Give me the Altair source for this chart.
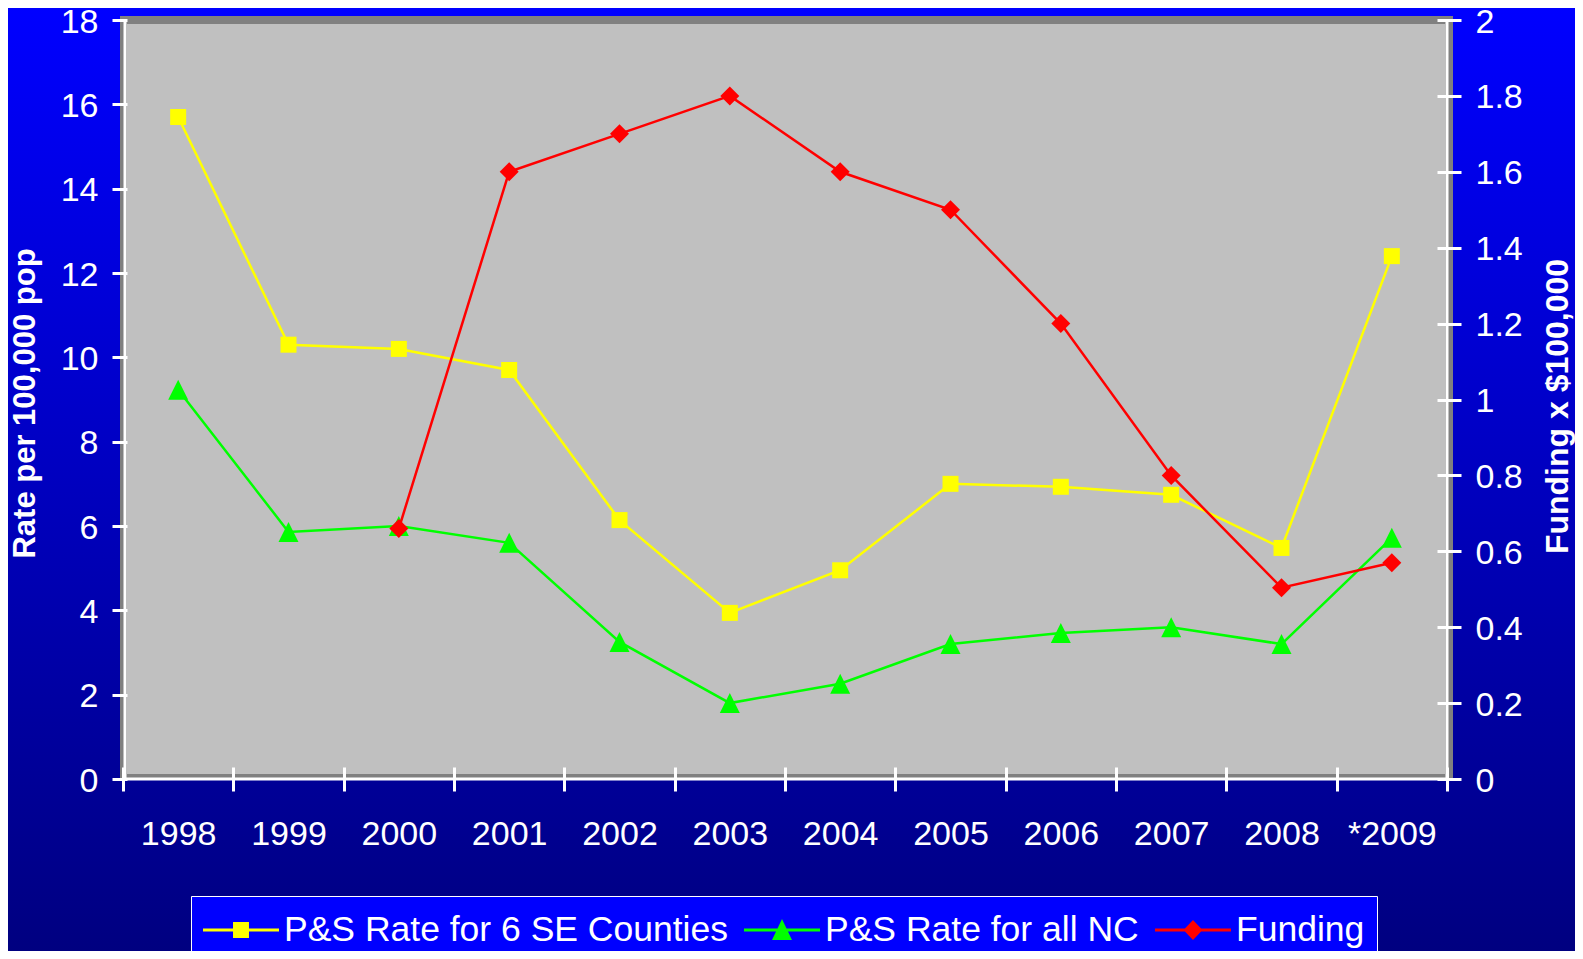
import altair as alt
import pandas as pd

# ---------------- data ----------------
years = ["1998", "1999", "2000", "2001", "2002", "2003", "2004", "2005",
         "2006", "2007", "2008", "*2009"]
se_counties = [15.7, 10.3, 10.2, 9.7, 6.14, 3.94, 4.95, 7.0, 6.93, 6.74, 5.48, 12.4]
all_nc = [9.23, 5.86, 6.0, 5.6, 3.25, 1.8, 2.26, 3.2, 3.46, 3.6, 3.2, 5.72]
funding = [None, None, 0.66, 1.6, 1.7, 1.8, 1.6, 1.5, 1.2, 0.8, 0.504, 0.57]

series_names = ["P&S Rate for 6 SE Counties", "P&S Rate for all NC", "Funding"]
series_colors = ["#FFFF00", "#00FF00", "#FF0000"]
left_ticks = [0, 2, 4, 6, 8, 10, 12, 14, 16, 18]
right_ticks = [0, 0.2, 0.4, 0.6, 0.8, 1, 1.2, 1.4, 1.6, 1.8, 2]

rows = []
for i, y in enumerate(years):
    rows.append({"year": y, "series": series_names[0], "value": se_counties[i]})
    rows.append({"year": y, "series": series_names[1], "value": all_nc[i]})
left_df = pd.DataFrame(rows)
right_df = pd.DataFrame({"year": years, "series": series_names[2], "value": funding}).dropna()
legend_df = pd.DataFrame({"series": series_names})

# ---------------- layout ----------------
W, H = 1324, 759
PAD = {"left": 115, "top": 12, "right": 128, "bottom": 172}
FONT = "Liberation Sans"

# marker shapes (plot) and legend symbols (line + marker)
tri_path = "M0,-1L1,1L-1,1Z"
marker_shapes = ["square", tri_path, "diamond"]
marker_sizes = [256, 400, 361]

line_part = "M-1,-0.042H1V0.042H-1Z"
leg_paths = [
    line_part + "M-0.21,-0.21H0.21V0.21H-0.21Z",
    line_part + "M0,-0.29L0.263,0.263H-0.263Z",
    line_part + "M0,-0.263L0.25,0L0,0.263L-0.25,0Z",
]

legend_def = alt.Legend(
    title=None, orient="none", legendX=68, legendY=876,
    direction="horizontal", columns=3,
    fillColor="#0000FF", strokeColor="white", padding=12,
    symbolSize=5776, symbolStrokeWidth=0, symbolOpacity=1,
    labelOffset=5, columnPadding=16, clipHeight=44,
    labelFontSize=35.5, labelColor="white", labelFont=FONT, labelLimit=0,
)
color_enc = alt.Color("series:N", scale=alt.Scale(domain=series_names, range=series_colors),
                      legend=legend_def)
legend_shape = alt.Shape("series:N", scale=alt.Scale(domain=series_names, range=leg_paths),
                         legend=legend_def)

x_enc = alt.X(
    "year:O", sort=years,
    scale=alt.Scale(type="band", paddingInner=0, paddingOuter=0),
    axis=alt.Axis(
        title=None, labelAngle=0, tickBand="extent", tickSize=24, offset=-12,
        domain=False, grid=False, labelPadding=26, labelFontSize=34,
        labelColor="white", labelFont=FONT, tickColor="white", tickWidth=3,
        zindex=1,
    ),
)

left_axis = alt.Axis(
    title="Rate per 100,000 pop", values=left_ticks, tickSize=15, offset=-4,
    domain=False, grid=False, labelPadding=14, labelFontSize=34, labelOffset=2,
    labelColor="white", labelFont=FONT, tickColor="white", tickWidth=3,
    titleColor="white", titleFont=FONT, titleFontSize=31, titleFontWeight="bold",
    titleAngle=270, titleAlign="center", titleBaseline="alphabetic",
    titleX=-93, titleY=383, zindex=1,
)
right_axis = alt.Axis(
    title="Funding x $100,000", orient="right", values=right_ticks, format="~g",
    tickSize=24, offset=-10, domain=False, grid=False, labelPadding=14,
    labelFontSize=34, labelOffset=2, labelColor="white", labelFont=FONT,
    tickColor="white", tickWidth=3, titleColor="white", titleFont=FONT,
    titleFontSize=32, titleFontWeight="bold", titleAngle=270, titleAlign="center",
    titleBaseline="alphabetic", titleX=130, titleY=386, zindex=1,
)

one = pd.DataFrame({"k": [0]})

bg = alt.Chart(one).mark_rect(
    fill=alt.LinearGradient(
        gradient="linear",
        stops=[alt.GradientStop(color="#0000FF", offset=0),
               alt.GradientStop(color="#000080", offset=1)],
        x1=0, x2=0, y1=0, y2=1,
    )
).encode(x=alt.value(-PAD["left"]), x2=alt.value(W + PAD["right"]),
         y=alt.value(-PAD["top"]), y2=alt.value(H + PAD["bottom"]))

shadow = alt.Chart(one).mark_rect(fill="#808080").encode(
    x=alt.value(-3), x2=alt.value(W + 6), y=alt.value(-4), y2=alt.value(H))
plot_bg = alt.Chart(one).mark_rect(fill="#C0C0C0").encode(
    x=alt.value(4), x2=alt.value(W - 2), y=alt.value(4), y2=alt.value(H - 5))

dom_left = alt.Chart(one).mark_rule(color="white", strokeWidth=3).encode(
    x=alt.value(2), y=alt.value(0), y2=alt.value(H))
dom_right = alt.Chart(one).mark_rule(color="white", strokeWidth=3).encode(
    x=alt.value(W), y=alt.value(0), y2=alt.value(H))
dom_bottom = alt.Chart(one).mark_rule(color="white", strokeWidth=3).encode(
    x=alt.value(0), x2=alt.value(W), y=alt.value(H))

# legend carrier: off-canvas points that give the legend its line+marker symbols
legend_layer = alt.Chart(legend_df).mark_point(filled=True, opacity=1).encode(
    x=alt.value(-5000), y=alt.value(-5000), color=color_enc, shape=legend_shape)

left_base = alt.Chart(left_df).encode(
    x=x_enc,
    y=alt.Y("value:Q", scale=alt.Scale(domain=[0, 18], nice=False), axis=left_axis),
    color=color_enc,
)
left = alt.layer(
    left_base.mark_line(strokeWidth=2.5),
    left_base.transform_filter(alt.datum.series == series_names[0]).mark_point(
        filled=True, opacity=1, shape=marker_shapes[0], size=marker_sizes[0]),
    left_base.transform_filter(alt.datum.series == series_names[1]).mark_point(
        filled=True, opacity=1, shape=marker_shapes[1], size=marker_sizes[1]),
)

right_base = alt.Chart(right_df).encode(
    x=x_enc,
    y=alt.Y("value:Q", scale=alt.Scale(domain=[0, 2], nice=False), axis=right_axis),
    color=color_enc,
)
right = alt.layer(
    right_base.mark_line(strokeWidth=2.5),
    right_base.mark_point(filled=True, opacity=1, shape=marker_shapes[2], size=marker_sizes[2]),
)

chart = alt.layer(
    bg, shadow, plot_bg, dom_left, dom_right, dom_bottom, legend_layer, left, right
).resolve_scale(y="independent").properties(
    width=W, height=H,
    autosize=alt.AutoSizeParams(type="none"),
    padding=PAD,
    background="#0000C0",
).configure_view(stroke=None)

chart.save("out.html", embed_options={"renderer": "svg", "actions": False})
